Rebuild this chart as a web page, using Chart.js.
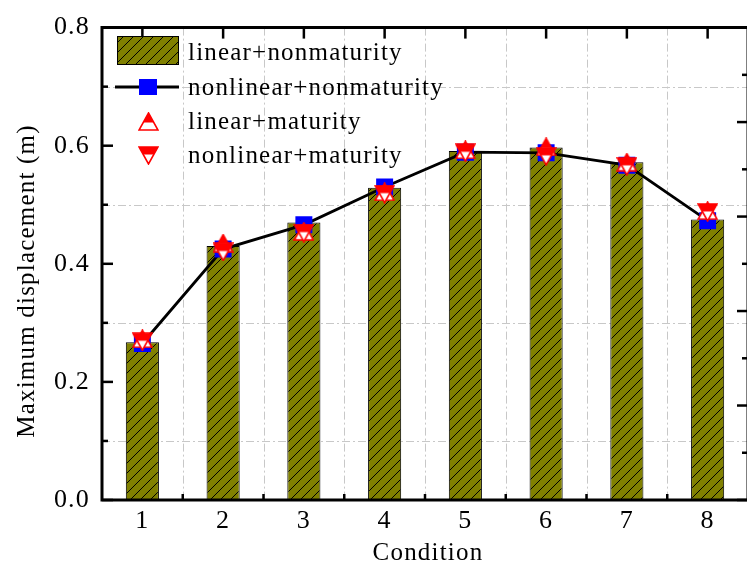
<!DOCTYPE html>
<html><head><meta charset="utf-8">
<script src="https://cdn.jsdelivr.net/npm/chart.js@4/dist/chart.umd.min.js"></script>
<style>
html,body{margin:0;padding:0;overflow:hidden;background:#fff;width:747px;height:567px}
#wrap{position:relative;width:760px;height:567px}
</style></head>
<body><div id="wrap"><canvas id="c" width="760" height="567"></canvas></div>
<script>
const categories = ['1','2','3','4','5','6','7','8'];
const linearNonmaturity    = [0.267, 0.430, 0.470, 0.529, 0.591, 0.597, 0.572, 0.475];
const nonlinearNonmaturity = [0.265, 0.425, 0.466, 0.530, 0.589, 0.588, 0.567, 0.473];
const linearMaturity       = [0.273, 0.435, 0.455, 0.522, 0.593, 0.598, 0.572, 0.490];
const nonlinearMaturity    = [0.268, 0.420, 0.452, 0.518, 0.588, 0.582, 0.565, 0.487];
const seriesNames = ['linear+nonmaturity','nonlinear+nonmaturity','linear+maturity','nonlinear+maturity'];
const xTitle = 'Condition';
const yTitle = 'Maximum displacement (m)';
const yRange = [0, 0.8];
const y2Range = [0, 5];

const FAMILY = '"Liberation Serif", "Times New Roman", serif';
const FS = 25;
const TICK_FS = 26;
const SPACING = '1.2px';

function makeHatch() {
  const c = document.createElement('canvas'); c.width = 10; c.height = 10;
  const g = c.getContext('2d');
  g.fillStyle = '#808000'; g.fillRect(0, 0, 10, 10);
  g.strokeStyle = '#000'; g.lineWidth = 1;
  g.beginPath();
  g.moveTo(-1, 11); g.lineTo(11, -1);
  g.moveTo(-1, 1); g.lineTo(1, -1);
  g.moveTo(9, 11); g.lineTo(11, 9);
  g.stroke();
  return g.createPattern(c, 'repeat');
}
function makeTri(up) {
  const w = 21, h = 19;
  const c = document.createElement('canvas'); c.width = w; c.height = h;
  const g = c.getContext('2d');
  const pts = up ? [[w/2, 1], [w-1, h-1], [1, h-1]] : [[1, 1], [w-1, 1], [w/2, h-1]];
  const path = () => { g.beginPath(); g.moveTo(pts[0][0], pts[0][1]); g.lineTo(pts[1][0], pts[1][1]); g.lineTo(pts[2][0], pts[2][1]); g.closePath(); };
  path(); g.fillStyle = '#fff'; g.fill();
  g.save(); path(); g.clip(); g.fillStyle = '#ff0000'; g.fillRect(0, 0, w, up ? h/2 + 1 : h/2 - 1); g.restore();
  path(); g.strokeStyle = '#ff0000'; g.lineWidth = 1.6; g.stroke();
  return c;
}
const hatch = makeHatch();
const upTri = makeTri(true);
const downTri = makeTri(false);

const framePlugin = {
  id: 'frame',
  beforeDraw(chart) {
    chart.ctx.letterSpacing = SPACING;
  },
  beforeDatasetsDraw(chart) {
    const {ctx, chartArea: a, scales: {x, y}} = chart;
    ctx.save();
    ctx.strokeStyle = '#c8c8c8'; ctx.lineWidth = 1; ctx.setLineDash([8, 3, 2, 3]);
    y.ticks.forEach(t => {
      if (Math.round(t.value * 10) % 2 === 1) {
        const py = Math.round(y.getPixelForValue(t.value)) + 0.5;
        ctx.beginPath(); ctx.moveTo(a.left, py); ctx.lineTo(a.right, py); ctx.stroke();
      }
    });
    for (let i = 0; i < categories.length - 1; i++) {
      const px = Math.round((x.getPixelForValue(i) + x.getPixelForValue(i + 1)) / 2) + 0.5;
      ctx.beginPath(); ctx.moveTo(px, a.top); ctx.lineTo(px, a.bottom); ctx.stroke();
    }
    ctx.restore();
  },
  afterDatasetsDraw(chart) {
    const {ctx, chartArea: a, scales: {x, y, y2}} = chart;
    ctx.save();
    ctx.strokeStyle = '#000'; ctx.lineCap = 'butt';
    ctx.lineWidth = 2.5;
    y.ticks.forEach(t => {
      const py = y.getPixelForValue(t.value);
      const major = Math.round(t.value * 10) % 2 === 0;
      ctx.beginPath(); ctx.moveTo(a.left, py); ctx.lineTo(a.left + (major ? 11 : 6), py); ctx.stroke();
    });
    const y2t = y2.ticks.map(t => y2.getPixelForValue(t.value));
    y2t.forEach((py, i) => {
      ctx.beginPath(); ctx.moveTo(a.right, py); ctx.lineTo(a.right - 11, py); ctx.stroke();
      if (i < y2t.length - 1) {
        const pm = (py + y2t[i + 1]) / 2;
        ctx.beginPath(); ctx.moveTo(a.right, pm); ctx.lineTo(a.right - 6, pm); ctx.stroke();
      }
    });
    for (let i = 0; i < categories.length; i++) {
      const px = x.getPixelForValue(i);
      ctx.beginPath(); ctx.moveTo(px, a.top); ctx.lineTo(px, a.top + 11); ctx.stroke();
      if (i < categories.length - 1) {
        const pm = (px + x.getPixelForValue(i + 1)) / 2;
        ctx.beginPath(); ctx.moveTo(pm, a.bottom); ctx.lineTo(pm, a.bottom - 6); ctx.stroke();
      }
    }
    ctx.lineWidth = 3; ctx.lineCap = 'square';
    ctx.beginPath();
    ctx.moveTo(a.left, a.top); ctx.lineTo(a.right, a.top); ctx.lineTo(a.right, a.bottom);
    ctx.lineTo(a.left, a.bottom); ctx.closePath(); ctx.stroke();
    ctx.restore();
  },
  afterDraw(chart) {
    const {ctx, chartArea: a} = chart;
    ctx.save();
    ctx.letterSpacing = SPACING;
    ctx.fillStyle = '#000'; ctx.font = FS + 'px ' + FAMILY; ctx.textBaseline = 'middle'; ctx.textAlign = 'center';
    ctx.fillText(xTitle, (a.left + a.right) / 2 + 3, 553);
    ctx.save(); ctx.translate(27, 281); ctx.rotate(-Math.PI / 2); ctx.fillText(yTitle, 0, 0); ctx.restore();
    const bx = 117, tx = 188;
    const rows = [52, 87, 121, 155];
    ctx.fillStyle = hatch; ctx.fillRect(bx, 36, 62, 29);
    ctx.strokeStyle = '#000'; ctx.lineWidth = 1; ctx.strokeRect(bx + 0.5, 36.5, 61, 28);
    ctx.lineWidth = 2.8; ctx.beginPath(); ctx.moveTo(bx - 2, rows[1]); ctx.lineTo(bx + 62, rows[1]); ctx.stroke();
    ctx.fillStyle = '#0000ff'; ctx.fillRect(bx + 31 - 9, rows[1] - 8, 18, 16);
    ctx.drawImage(upTri, bx + 31 - 10, rows[2] - 9);
    ctx.drawImage(downTri, bx + 31 - 10, rows[3] - 9);
    ctx.fillStyle = '#000'; ctx.textAlign = 'left';
    seriesNames.forEach((n, i) => ctx.fillText(n, tx, rows[i] + 1));
    ctx.restore();
  }
};

new Chart(document.getElementById('c'), {
  type: 'bar',
  data: {
    labels: categories,
    datasets: [
      { type: 'bar', label: seriesNames[0], data: linearNonmaturity, backgroundColor: hatch,
        borderColor: '#000', borderWidth: 1, barPercentage: 0.41, categoryPercentage: 1, order: 4, yAxisID: 'y' },
      { type: 'line', label: seriesNames[1], data: nonlinearNonmaturity, borderColor: '#000', borderWidth: 2.8,
        tension: 0, pointStyle: 'rect', pointRadius: 12, pointHoverRadius: 12, pointBackgroundColor: '#0000ff',
        pointBorderColor: '#0000ff', pointBorderWidth: 0, order: 3, yAxisID: 'y' },
      { type: 'line', label: seriesNames[2], data: linearMaturity, showLine: false, pointStyle: upTri,
        pointRadius: 10, order: 2, yAxisID: 'y' },
      { type: 'line', label: seriesNames[3], data: nonlinearMaturity, showLine: false, pointStyle: downTri,
        pointRadius: 10, order: 1, yAxisID: 'y' }
    ]
  },
  options: {
    responsive: false, animation: false, devicePixelRatio: 1,
    layout: { padding: { top: 23, right: 11, left: 0, bottom: 0 } },
    plugins: { legend: { display: false }, tooltip: { enabled: false } },
    scales: {
      x: {
        type: 'category', offset: true,
        grid: { display: false, drawTicks: false }, border: { display: false },
        ticks: { color: '#000', font: { family: FAMILY, size: TICK_FS }, padding: 6, maxRotation: 0 },
        title: { display: false },
        afterFit(s) { s.height = 67; }
      },
      y: {
        position: 'left', min: yRange[0], max: yRange[1],
        grid: { display: false, drawTicks: false }, border: { display: false },
        ticks: { stepSize: 0.1, autoSkip: false, color: '#000', font: { family: FAMILY, size: TICK_FS }, padding: 12,
          callback: v => (Math.round(v * 10) % 2 === 0 ? Number(v).toFixed(1) : '') },
        title: { display: false },
        afterFit(s) { s.width = 102; }
      },
      y2: {
        position: 'right', min: y2Range[0], max: y2Range[1],
        grid: { display: false, drawTicks: false }, border: { display: false },
        ticks: { display: false, stepSize: 1 },
        afterFit(s) { s.width = 0; }
      }
    }
  },
  plugins: [framePlugin]
});
</script>
</body></html>
